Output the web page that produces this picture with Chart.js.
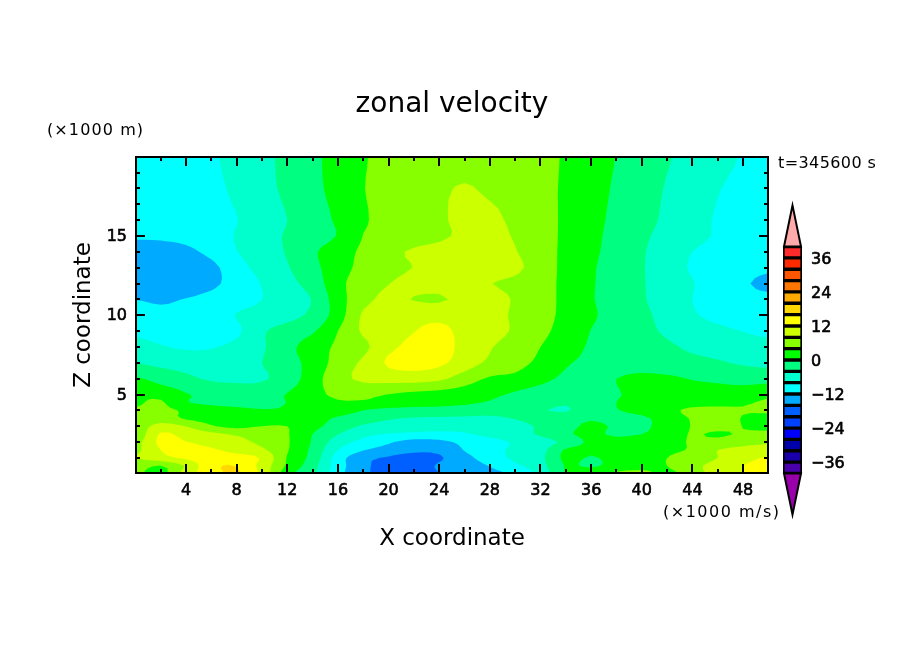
<!DOCTYPE html>
<html>
<head>
<meta charset="utf-8">
<title>zonal velocity</title>
<script src="https://cdn.jsdelivr.net/npm/chart.js@4"></script>
<style>
  body { margin: 0; background: #fff; }
  #wrap { position: relative; width: 904px; height: 654px; overflow: hidden; }
  #plot { position: absolute; left: 0; top: 0; }
  #bar { position: absolute; left: 770px; top: 190px; }
</style>
</head>
<body>
<div id="wrap">
  <canvas id="plot" width="904" height="654"></canvas>
  <canvas id="bar" width="120" height="340"></canvas>
</div>
<script>
// grid, x in km (every 2), one row per height
const xCoords = [0,2,4,6,8,10,12,14,16,18,20,22,24,26,28,30,32,34,36,38,40,42,44,46,48,50];
const zCoords = [0.05,0.5,1,1.5,2,2.5,3,3.5,4,4.5,5,6,7,8,9,10,11,12,13,14,15,16,18,20];

const u00 = [5,2.5,10,14.5,16.5,11,1.5,-3,-10.5,-15.3,-17,-17.5,-16,-14.5,-13,-11,-6.5,0.5,2.5,4.5,5,3,6.5,9.5,12,13.5];
const u005 = [6,3.9,8.5,15,15.8,10.5,3.4,-2.5,-10,-15.2,-17,-18,-15.5,-14,-11.8,-8.8,-5.5,0.3,-0.6,1.5,2.5,4,7,9.3,12,13.5];
const u01 = [8,10.5,12.7,14,14,11.5,3.7,-1.4,-10,-14.8,-16.5,-18,-16.5,-13.3,-10,-7.2,-5,1,-0.4,1.5,2.5,4,6,8,10.5,12.5];
const u015 = [7,12,13.5,12.6,10.5,8.7,4.3,-1,-8,-11.8,-13.5,-15,-15,-11.8,-9.2,-7.3,-5.5,0.6,1,1.2,2.2,3.3,4.5,8,8.8,9.5];
const u02 = [6.5,13,12.1,10.5,9,7.2,4.4,-0.4,-6,-9.2,-11.5,-13.5,-13,-11,-9.4,-7.5,-5.7,-3,1,1.8,2.5,3.2,4.3,5.5,7,7.5];
const u025 = [5,12.5,10.5,9,7.5,6.5,4.3,0,-3.9,-7,-8.2,-8.8,-9.2,-8.4,-7,-5.5,-3.5,-0.7,1,-0.8,0,2,4.3,3.4,4.5,5];
const u03 = [5.5,9.5,7.9,4.4,3,4,4,1.2,-1.8,-4.5,-5.5,-6,-6.3,-6.5,-6.8,-5.5,-3.4,-1.5,1,-0.6,-0.8,1.8,4.2,5.7,3.9,3];
const u035 = [5,6,3.5,2.5,1.8,1.8,2,1.8,-0.6,-2.2,-3.6,-4.2,-4.3,-4.4,-4.5,-3.8,-2.6,-2,-0.5,-1.5,-0.8,2,4.3,5.5,3.8,3];
const u04 = [4.3,4.7,3.5,2,1.2,0.3,0.6,2.5,2.2,0,-1.3,-1.9,-2.3,-2.6,-3,-3.3,-3.8,-4.3,-2,-0.2,1.5,3,4.8,5.3,4.2,4.5];
const u045 = [3.5,4.5,0.3,-1,-1.8,-1.5,0.1,2,3.6,3.5,3.2,2.5,2.2,1,-0.4,-1.5,-2,-3.5,-1.8,0,1.5,2,2.5,2.5,3.5,4.5];
const u05 = [3.5,2.5,0.3,-1.3,-2.3,-2,0.2,2.7,4.8,4.9,3.9,3,2.6,2,1,-0.6,-1.5,-1.8,-1.8,-0.3,1,1.5,1.5,1.4,1.5,3];
const u06 = [0.5,-1.5,-3.1,-4.5,-4.6,-4.4,-2.2,2.2,6.5,8.8,9.5,9.7,8.8,6,3.5,3,1,-0.7,-1.6,0,1,0.8,-0.2,-0.7,-1.2,-1.4];
const u07 = [-4.2,-5,-5.6,-6,-5.5,-4,-1.5,1.4,5.6,8.7,12.6,13.6,12.8,10,7.2,5.3,3.1,0.4,-0.7,-1.5,-2.2,-2.8,-3.1,-3.6,-4.5,-5];
const u08 = [-6.5,-7.7,-8.5,-8.3,-6.8,-4.5,-1.2,2,4.7,7,11,13,13.5,10.8,8.3,6.2,4,1.5,-0.4,-1.4,-2.5,-3.5,-4.5,-5.2,-5.8,-6.5];
const u09 = [-8.8,-9.5,-10,-10,-8.8,-4.5,-2.5,-0.5,4,8.6,10.3,11.9,12.8,11,9.4,7.5,5,2.5,-0.1,-1.6,-3,-4.5,-5.7,-6.9,-8.1,-9];
const u10 = [-10,-11,-10.8,-9.8,-7.8,-6.6,-5.2,-3,2,8.6,10,10.8,11,10.5,9.4,7.4,5.4,3,0.6,-1.6,-3.2,-5.2,-7.5,-9.2,-10,-10.5];
const u11 = [-12.1,-12.6,-11.8,-10.8,-9.6,-8,-6,-3.8,2.2,6.7,9,7.8,7.5,9.2,9.5,7.6,5.6,3,0.3,-1.7,-3.6,-5.8,-8,-9.5,-10.5,-11];
const u12 = [-15.5,-15,-14.5,-12.8,-10.5,-7.8,-5.2,-2.3,2.8,6,7.9,9.5,10,9.5,8.1,7.2,5.4,3.1,0.4,-1.8,-3.7,-5.8,-7.8,-9.8,-11.5,-13];
const u13 = [-15,-15,-14,-13,-9.5,-6.7,-4.3,-1.2,2.4,5,6.5,8.1,9.5,10,9.6,8.8,6,3,0.5,-1.8,-3.7,-6.2,-8.4,-9.5,-10.5,-11.5];
const u14 = [-13.5,-13.5,-12.8,-11,-8.1,-5.8,-3.7,-0.6,2.2,4.7,6.9,8.5,9.2,9.5,9.5,8.2,5.6,3.2,0.8,-1.4,-3.6,-6,-8,-9.2,-10.7,-12.1];
const u15 = [-11.6,-11.5,-11,-9.8,-7.7,-5.6,-3.6,-1.8,0.2,4.1,5.1,6.2,7.4,8.6,9,7.7,5.5,3.3,1,-1.2,-3.3,-5.2,-6.9,-8.4,-9.6,-10.5];
const u16 = [-11,-11,-10.5,-9.5,-8.1,-6,-4,-1.8,0.6,3.6,5,6.3,7.6,8.6,8.8,7.2,5.3,3.4,1.2,-0.9,-2.8,-4.7,-6.9,-8.3,-9.5,-10];
const u18 = [-11,-10.5,-10,-9,-7.2,-5.2,-3.2,-1,1.3,3.9,5,6.2,7.5,8.2,7.5,6.5,5,3.5,1.5,-0.5,-2.4,-4.3,-6,-7.8,-9,-10];
const u20 = [-11,-10.5,-10,-8.5,-6.8,-5,-3,-0.8,1.4,3.7,5,6,6.5,7,7,6.8,5.5,3.5,1.7,-0.1,-2,-3.7,-5.2,-6.8,-8.3,-10];
const uRows = [u00,u005,u01,u015,u02,u025,u03,u035,u04,u045,u05,u06,u07,u08,u09,u10,u11,u12,u13,u14,u15,u16,u18,u20];

// contour levels and fills, lowest first
const levels = [-40,-36,-32,-28,-24,-20,-16,-12,-8,-4,0,4,8,12,16,20,24,28,32,36,40];
const bandColors = ['#4a00aa','#1a00a8','#0000aa','#0000ff','#0040ff','#0060ff','#00aaff','#00ffff','#00ffcc','#00ff80',
  '#00ff00','#88ff00','#ccff00','#ffff00','#ffd800','#ffaa00','#ff7700','#ff5500','#ff2a00','#ff2a2a'];
const overColor = '#ffaaaa';
const underColor = '#9900aa';
const barTicks = [-36,-24,-12,0,12,24,36];

const gridPoints = [];
zCoords.forEach((z, j) => xCoords.forEach((x, i) => gridPoints.push({ x: x, y: z, v: uRows[j][i] })));

// keep the part of a polygon above a level
function clipPoly(poly, level) {
  const out = [];
  poly.forEach((a, i) => {
    const b = poly[(i + 1) % poly.length];
    if (a[2] >= level) out.push(a);
    if ((a[2] >= level) !== (b[2] >= level)) {
      const t = (level - a[2]) / (b[2] - a[2]);
      out.push([a[0] + t * (b[0] - a[0]), a[1] + t * (b[1] - a[1]), level]);
    }
  });
  return out;
}

// rounds the contour outlines only, the grid itself stays as read
function cubic(p0, p1, p2, p3, t) {
  return 0.5 * (2 * p1 + (p2 - p0) * t + (2 * p0 - 5 * p1 + 4 * p2 - p3) * t * t + (3 * p1 - p0 - 3 * p2 + p3) * t * t * t);
}
const SUB = 3;
function refineAxis(arr) {
  const out = [];
  for (let i = 0; i < arr.length - 1; i++) {
    for (let s = 0; s < SUB; s++) out.push(arr[i] + (arr[i + 1] - arr[i]) * s / SUB);
  }
  out.push(arr[arr.length - 1]);
  return out;
}
function refineRow(row) {
  const out = [];
  const at = i => row[Math.max(0, Math.min(row.length - 1, i))];
  for (let i = 0; i < row.length - 1; i++) {
    for (let s = 0; s < SUB; s++) out.push(cubic(at(i - 1), at(i), at(i + 1), at(i + 2), s / SUB));
  }
  out.push(row[row.length - 1]);
  return out;
}
const fineX = refineAxis(xCoords);
const fineZ = refineAxis(zCoords);
const fineCols = fineX.map((_, i) => refineRow(uRows.map(r => refineRow(r)[i])));

const contourPlugin = {
  id: 'contour',
  afterLayout(chart) {
    // centre the title over the plot, not over the padded box
    chart.titleBlock.left = chart.chartArea.left;
    chart.titleBlock.right = chart.chartArea.right;
  },
  beforeDatasetsDraw(chart) {
    const { ctx, chartArea: area, scales } = chart;
    const sx = scales.x, sy = scales.y;
    ctx.save();
    ctx.beginPath();
    ctx.rect(area.left, area.top, area.width, area.height);
    ctx.clip();
    levels.slice(0, -1).forEach((level, k) => {
      ctx.beginPath();
      for (let j = 0; j < fineZ.length - 1; j++) {
        for (let i = 0; i < fineX.length - 1; i++) {
          const quad = [
            [fineX[i], fineZ[j], fineCols[i][j]],
            [fineX[i + 1], fineZ[j], fineCols[i + 1][j]],
            [fineX[i + 1], fineZ[j + 1], fineCols[i + 1][j + 1]],
            [fineX[i], fineZ[j + 1], fineCols[i][j + 1]]
          ];
          const poly = clipPoly(quad, level);
          poly.forEach((p, n) => {
            const px = sx.getPixelForValue(p[0]), py = sy.getPixelForValue(p[1]);
            if (n === 0) ctx.moveTo(px, py); else ctx.lineTo(px, py);
          });
          if (poly.length) ctx.closePath();
        }
      }
      ctx.fillStyle = bandColors[k];
      ctx.fill();
    });
    ctx.restore();
  },
  afterDraw(chart) {
    const { ctx, chartArea: area, scales } = chart;
    ctx.save();
    ctx.strokeStyle = '#000';
    // inward ticks on all four sides
    ctx.lineWidth = 2;
    ctx.beginPath();
    scales.x.ticks.forEach(t => {
      const px = Math.round(scales.x.getPixelForValue(t.value));
      const len = t.value % 4 === 0 ? 9 : 4;
      ctx.moveTo(px, area.bottom); ctx.lineTo(px, area.bottom - len);
      ctx.moveTo(px, area.top); ctx.lineTo(px, area.top + len);
    });
    scales.y.ticks.forEach(t => {
      const py = Math.round(scales.y.getPixelForValue(t.value));
      const len = t.value % 5 === 0 ? 9 : 4;
      ctx.moveTo(area.left, py); ctx.lineTo(area.left + len, py);
      ctx.moveTo(area.right, py); ctx.lineTo(area.right - len, py);
    });
    ctx.stroke();
    ctx.strokeRect(area.left, area.top, area.width, area.height);

    ctx.fillStyle = '#000';
    ctx.textBaseline = 'middle';
    ctx.textAlign = 'left';
    ctx.font = '16px "DejaVu Sans"';
    ctx.letterSpacing = '1.1px';
    ctx.fillText('(×1000 m)', 47, 131);
    ctx.letterSpacing = '0.4px';
    ctx.fillText('t=345600 s', 778, 164);
    ctx.letterSpacing = '1.5px';
    ctx.fillText('(×1000 m/s)', 663, 513);
    ctx.restore();
  }
};

new Chart(document.getElementById('plot'), {
  type: 'scatter',
  plugins: [contourPlugin],
  data: {
    datasets: [{ label: 'zonal velocity', data: gridPoints, pointRadius: 0, showLine: false }]
  },
  options: {
    responsive: false,
    animation: false,
    devicePixelRatio: 1,
    layout: { padding: { left: 70, top: 80, right: 136, bottom: 101 } },
    plugins: {
      legend: { display: false },
      tooltip: { enabled: false },
      title: {
        display: true,
        text: 'zonal velocity',
        color: '#000',
        font: { family: 'DejaVu Sans', size: 28, weight: 'normal' },
        padding: { top: 8, bottom: 35.4 }
      }
    },
    scales: {
      x: {
        type: 'linear',
        min: 0.05,
        max: 49.97,
        afterFit(s) { s.height = 80; },
        grid: { display: false, drawTicks: false },
        border: { display: false },
        title: { display: true, text: 'X coordinate', color: '#000', padding: 0, font: { family: 'DejaVu Sans', size: 23 } },
        ticks: {
          stepSize: 2,
          includeBounds: false,
          autoSkip: false,
          maxRotation: 0,
          padding: 8,
          color: '#000',
          textStrokeColor: '#000',
          textStrokeWidth: 0.6,
          font: { family: 'DejaVu Sans', size: 16 },
          callback: v => (v % 4 === 0 ? String(v) : '')
        }
      },
      y: {
        type: 'linear',
        min: 0.05,
        max: 19.98,
        afterFit(s) { s.width = 66; },
        grid: { display: false, drawTicks: false },
        border: { display: false },
        title: { display: true, text: 'Z coordinate', color: '#000', padding: 0, font: { family: 'DejaVu Sans', size: 23 } },
        ticks: {
          stepSize: 1,
          includeBounds: false,
          autoSkip: false,
          padding: 9,
          labelOffset: 1,
          color: '#000',
          textStrokeColor: '#000',
          textStrokeWidth: 0.6,
          font: { family: 'DejaVu Sans', size: 16 },
          callback: v => (v % 5 === 0 ? String(v) : '')
        }
      }
    }
  }
});

// colour bar: one floating bar per band, end triangles from the same scale
const trianglePlugin = {
  id: 'triangles',
  afterDatasetsDraw(chart) {
    const { ctx, chartArea: area, scales } = chart;
    const mid = (area.left + area.right) / 2;
    const ends = [[levels[levels.length - 1], 54.5, overColor], [levels[0], -54.5, underColor]];
    ctx.save();
    ctx.lineWidth = 2;
    ctx.strokeStyle = '#000';
    ends.forEach(e => {
      ctx.beginPath();
      ctx.moveTo(area.left + 1, scales.y.getPixelForValue(e[0]));
      ctx.lineTo(mid, scales.y.getPixelForValue(e[1]));
      ctx.lineTo(area.right - 1, scales.y.getPixelForValue(e[0]));
      ctx.closePath();
      ctx.fillStyle = e[2];
      ctx.fill();
      ctx.stroke();
    });
    ctx.restore();
  }
};

new Chart(document.getElementById('bar'), {
  type: 'bar',
  plugins: [trianglePlugin],
  data: {
    labels: ['u'],
    datasets: bandColors.map((color, k) => ({
      data: [[levels[k], levels[k + 1]]],
      backgroundColor: color,
      borderColor: '#000',
      borderWidth: 2,
      borderSkipped: false,
      grouped: false,
      barPercentage: 1,
      categoryPercentage: 1
    }))
  },
  options: {
    responsive: false,
    animation: false,
    devicePixelRatio: 1,
    layout: { padding: { left: 13, top: 14, right: 0, bottom: 14 } },
    plugins: { legend: { display: false }, tooltip: { enabled: false } },
    scales: {
      x: { display: false },
      y: {
        position: 'right',
        min: -55,
        max: 55,
        afterFit(s) { s.width = 88; s.paddingTop = 0; s.paddingBottom = 0; },
        afterBuildTicks(s) { s.ticks = barTicks.map(v => ({ value: v })); },
        grid: { display: false, drawTicks: false },
        border: { display: false },
        ticks: {
          autoSkip: false,
          padding: 9,
          labelOffset: 2,
          color: '#000',
          textStrokeColor: '#000',
          textStrokeWidth: 0.6,
          font: { family: 'DejaVu Sans', size: 16 },
          callback: v => String(v).replace('-', '\u2212')
        }
      }
    }
  }
});
</script>
</body>
</html>
